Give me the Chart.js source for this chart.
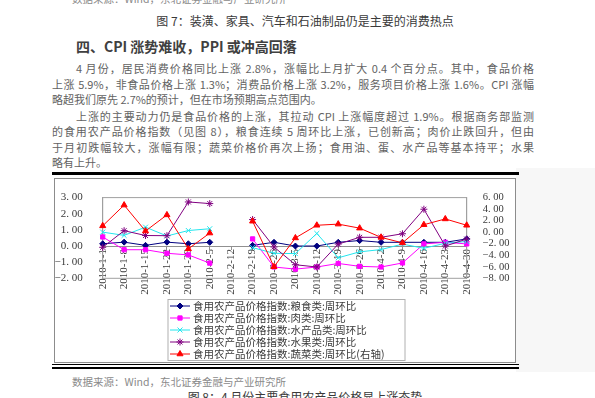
<!DOCTYPE html>
<html>
<head>
<meta charset="utf-8">
<script src="https://cdn.jsdelivr.net/npm/chart.js@4.4.1/dist/chart.umd.min.js"></script>
<style>
  html, body { margin: 0; padding: 0; background: #fff; }
  body { width: 595px; height: 398px; position: relative; overflow: hidden;
         font-family: "Noto Sans CJK SC", sans-serif; color: #626262; }
  .t { position: absolute; white-space: nowrap; line-height: 14px; font-size: 11px; }
  .j { text-align: justify; text-align-last: justify; }
  #strip { position: absolute; left: 516px; top: 168px; width: 79px; height: 204px; background: #f7f7f7; }
  #frame { position: absolute; left: 54px; top: 178px; width: 462px; height: 185px;
           box-sizing: border-box; border: 1.5px solid #8c8c8c; background: #fff; }
  #rule1 { position: absolute; left: 52px; top: 172px; width: 467px; height: 2.5px; background: #000; }
  #rule2 { position: absolute; left: 52px; top: 364px; width: 467px; height: 1px; background: #000; }
  #rule3 { position: absolute; left: 52px; top: 366.5px; width: 467px; height: 2px; background: #000; }
  #wrap { position: absolute; left: 55px; top: 179px; width: 460px; height: 183px; }
</style>
</head>
<body>
<div class="t" style="left:72px; top:-8px; font-size:10.5px; color:#8a8a8a;">数据来源：Wind，东北证券金融与产业研究所</div>
<div class="t" style="left:105px; top:14px; width:400px; text-align:center; font-size:12px; color:#3a3a3a;">图 7：装潢、家具、汽车和石油制品仍是主要的消费热点</div>
<div class="t" style="left:76px; top:38px; font-size:14px; line-height:16px; color:#404040; font-weight:bold;">四、CPI 涨势难收，PPI 或冲高回落</div>
<div class="t j" style="left:76px; top:61px; width:458px;">4 月份，居民消费价格同比上涨 2.8%，涨幅比上月扩大 0.4 个百分点。其中，食品价格</div>
<div class="t j" style="left:52px; top:77px; width:482px;">上涨 5.9%，非食品价格上涨 1.3%；消费品价格上涨 3.2%，服务项目价格上涨 1.6%。CPI 涨幅</div>
<div class="t" style="left:52px; top:92px;">略超我们原先 2.7%的预计，但在市场预期高点范围内。</div>
<div class="t j" style="left:76px; top:108.5px; width:458px;">上涨的主要动力仍是食品价格的上涨，其拉动 CPI 上涨幅度超过 1.9%。根据商务部监测</div>
<div class="t j" style="left:52px; top:124px; width:482px;">的食用农产品价格指数（见图 8），粮食连续 5 周环比上涨，已创新高；肉价止跌回升，但由</div>
<div class="t j" style="left:52px; top:139.5px; width:482px;">于月初跌幅较大，涨幅有限；蔬菜价格价再次上扬；食用油、蛋、水产品等基本持平；水果</div>
<div class="t" style="left:52px; top:155px;">略有上升。</div>

<div id="strip"></div>
<div id="rule1"></div>
<div id="frame"></div>
<div id="wrap"><canvas id="foodChart" width="460" height="183"></canvas></div>
<div id="rule2"></div>
<div id="rule3"></div>

<div class="t" style="left:72px; top:375px; font-size:10.5px; color:#8a8a8a;">数据来源：Wind，东北证券金融与产业研究所</div>
<div class="t" style="left:105px; top:390px; width:400px; text-align:center; font-size:12px; color:#3a3a3a;">图 8：4 月份主要食用农产品价格显上涨态势</div>

<script>
// weekly dates, 2010
const categories = ['2010-1-1', '2010-1-8', '2010-1-15', '2010-1-22', '2010-1-29', '2010-2-5',
    '2010-2-12', '2010-2-19', '2010-2-26', '2010-3-5', '2010-3-12', '2010-3-19',
    '2010-3-26', '2010-4-2', '2010-4-9', '2010-4-16', '2010-4-23', '2010-4-30'];

const seriesNames = [
    '食用农产品价格指数:粮食类:周环比',
    '食用农产品价格指数:肉类:周环比',
    '食用农产品价格指数:水产品类:周环比',
    '食用农产品价格指数:水果类:周环比',
    '食用农产品价格指数:蔬菜类:周环比(右轴)'
];

// left axis
const grain = [0.14, 0.24, 0.04, 0.24, 0.14, 0.23, null, 0.04, 0.23, 0.0, 0.0, 0.23, 0.34, 0.23, 0.23, 0.23, 0.23, 0.44];
const meat = [0.56, -0.23, -0.23, -0.45, -0.55, -1.06, null, 0.44, -1.3, -1.43, -1.3, -1.08, -1.26, -1.3, -1.05, 0.13, 0.23, 0.13];
const aquatic = [0.86, 0.66, 1.17, 0.62, 0.96, 1.07, null, -0.1, -0.45, -0.47, 0.78, -0.73, -0.36, -0.22, 0.12, -0.14, 0.17, 0.28];
const fruit = [-0.08, 0.95, 0.65, 0.64, 2.73, 2.63, null, 1.64, -0.06, -1.16, -1.3, 0.12, 0.54, 0.54, 0.76, 2.28, 0.0, 0.43];
// right axis
const vegetable = [1.1, 4.7, 0.2, 3.0, -2.9, -0.15, null, 1.9, -6.0, -1.0, 1.2, 1.4, 0.7, -0.9, -1.85, 1.3, 2.3, 1.2];

const leftRange = [-2, 3];
const rightRange = [-8, 6];

const colors = ['#000080', '#ff00ff', '#22e6ee', '#800080', '#ff0000'];
const markers = ['rectRot', 'rect', 'crossRot', 'star', 'triangle'];
const markerSizes = [3, 3, 3.5, 3.5, 3.5];

const values = [grain, meat, aquatic, fruit, vegetable];
const datasets = values.map((vals, i) => ({
    label: seriesNames[i],
    data: vals,
    yAxisID: i === 4 ? 'y1' : 'y',
    borderColor: colors[i],
    backgroundColor: colors[i],
    borderWidth: 1,
    pointStyle: markers[i],
    pointRadius: markerSizes[i],
    pointBorderWidth: 1,
    pointBackgroundColor: colors[i],
    pointBorderColor: colors[i],
    spanGaps: false,
    tension: 0,
    order: 4 - i
}));

const tickFont = { family: 'Liberation Serif', size: 11 };
const fmt = v => (v < 0 ? '\u2212' : '') + Math.abs(v).toFixed(2).replace('.', '. ');

// plot box + legend drawn on the canvas
const frameBox = {
    id: 'frameBox',
    beforeDatasetsDraw(chart) {
        const { ctx, chartArea: a } = chart;
        ctx.save();
        ctx.strokeStyle = '#a0a0a0';
        ctx.lineWidth = 1;
        ctx.strokeRect(a.left, a.top, a.right - a.left, a.bottom - a.top);
        ctx.restore();
    },
    afterDraw(chart) {
        const ctx = chart.ctx;
        const bx = 113, by = 120.5, bw = 237, bh = 61;
        ctx.save();
        ctx.fillStyle = '#fff';
        ctx.fillRect(bx, by, bw, bh);
        ctx.strokeStyle = '#b0b0b0';
        ctx.lineWidth = 1;
        ctx.strokeRect(bx, by, bw, bh);
        ctx.font = '10.5px "Noto Sans CJK SC"';
        ctx.textBaseline = 'middle';
        chart.data.datasets.forEach((ds, i) => {
            const y = by + 6.5 + i * 12;
            ctx.strokeStyle = ds.borderColor;
            ctx.fillStyle = ds.borderColor;
            ctx.lineWidth = 1;
            ctx.beginPath();
            ctx.moveTo(bx + 2, y);
            ctx.lineTo(bx + 22, y);
            ctx.stroke();
            Chart.helpers.drawPoint(ctx, {
                pointStyle: ds.pointStyle, radius: ds.pointRadius, rotation: 0, borderWidth: 1
            }, bx + 12, y);
            ctx.fillStyle = '#3a3a3a';
            ctx.fillText(ds.label, bx + 25, y + 0.5);
        });
        ctx.restore();
    }
};

const foodCtx = document.getElementById('foodChart').getContext('2d');
const foodChart = new Chart(foodCtx, {
    type: 'line',
    data: {
        labels: categories,
        datasets: datasets
    },
    options: {
        responsive: false,
        animation: false,
        layout: { padding: { top: 12.5, bottom: 83.7, left: 0, right: 0 } },
        plugins: {
            legend: { display: false },
            tooltip: { enabled: false }
        },
        scales: {
            x: {
                position: { y: 0 },
                offset: false,
                grid: { display: true, drawOnChartArea: false, tickLength: 3, color: '#909090' },
                border: { display: true, color: '#909090', width: 1 },
                ticks: {
                    autoSkip: false, minRotation: 90, maxRotation: 90, padding: 0,
                    font: tickFont, color: '#3a3a3a'
                }
            },
            y: {
                position: 'left',
                min: leftRange[0],
                max: leftRange[1],
                afterFit(s) { s.width = 47.7; },
                grid: { display: false },
                border: { display: true, color: '#a0a0a0' },
                ticks: { autoSkip: false, stepSize: 1, padding: 12, font: tickFont, color: '#3a3a3a', callback: fmt }
            },
            y1: {
                position: 'right',
                min: rightRange[0],
                max: rightRange[1],
                afterFit(s) { s.width = 48.3; },
                grid: { display: false },
                border: { display: true, color: '#a0a0a0' },
                ticks: { autoSkip: false, stepSize: 2, padding: 8, font: { family: 'Liberation Serif', size: 10.5 }, color: '#3a3a3a', callback: fmt }
            }
        }
    },
    plugins: [frameBox]
});
</script>
</body>
</html>
